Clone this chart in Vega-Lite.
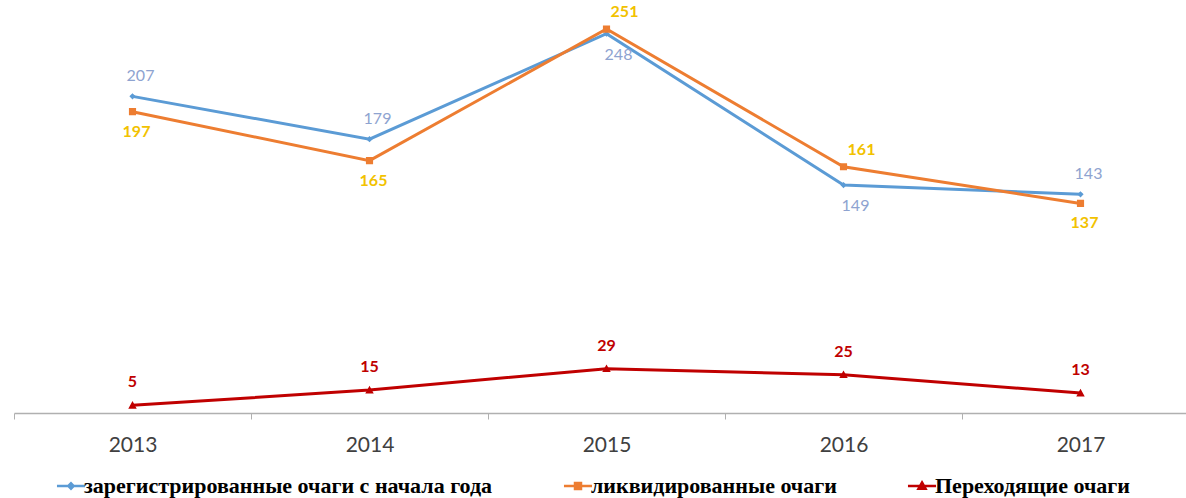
{
  "$schema": "https://vega.github.io/schema/vega-lite/v6.json",
  "autosize": "none",
  "padding": {"left": 14, "top": 0, "right": 0, "bottom": 85},
  "width": 1172,
  "height": 413,
  "background": "white",
  "config": {"view": {"stroke": null}, "legend": {"labelFont": "Liberation Serif"}},
  "data": {"values": [
    {"year": "2013", "reg": 207, "liq": 197, "per": 5},
    {"year": "2014", "reg": 179, "liq": 165, "per": 15},
    {"year": "2015", "reg": 248, "liq": 251, "per": 29},
    {"year": "2016", "reg": 149, "liq": 161, "per": 25},
    {"year": "2017", "reg": 143, "liq": 137, "per": 13}
  ]},
  "encoding": {
    "x": {"field": "year", "type": "ordinal", "scale": {"paddingInner": 0, "paddingOuter": 0, "range": [0, 1185]},
      "axis": {"title": null, "labelAngle": 0, "labelFont": "Lato", "labelFontSize": 21, "labelColor": "#404040",
        "domainColor": "#b0b0b0", "domainWidth": 1.3, "tickColor": "#b0b0b0", "tickSize": 6, "tickBand": "extent",
        "labelPadding": 15, "grid": false}}
  },
  "layer": [
    {
      "transform": [{"fold": ["reg", "liq", "per"], "as": ["key", "value"]}],
      "mark": {"type": "line", "strokeWidth": 3},
      "encoding": {
        "y": {"field": "value", "type": "quantitative", "scale": {"domain": [0, 270], "nice": false}, "axis": null},
        "color": {"field": "key", "type": "nominal",
          "scale": {"domain": ["reg", "liq", "per"], "range": ["#5B9BD5", "#ED7D31", "#C00000"]}}
      }
    },
    {
      "transform": [{"fold": ["reg", "liq", "per"], "as": ["key", "value"]}],
      "mark": {"type": "point", "filled": true, "opacity": 1, "size": 500, "strokeWidth": 0},
      "encoding": {
        "y": {"field": "value", "type": "quantitative"},
        "color": {"field": "key", "type": "nominal",
          "legend": {"title": null, "orient": "none", "legendX": 46, "legendY": 475, "direction": "horizontal",
            "columnPadding": 65, "symbolSize": 350, "symbolStrokeWidth": 2.5,
            "labelFont": "Liberation Serif", "labelFontWeight": "bold", "labelFontSize": 22, "labelColor": "#000000",
            "labelOffset": 2, "labelLimit": 600,
            "labelExpr": "datum.value == 'reg' ? 'зарегистрированные очаги с начала года' : datum.value == 'liq' ? 'ликвидированные очаги' : 'Переходящие очаги'",
            "encode": {"symbols": {"update": {"stroke": {"scale": "color", "field": "value"}, "strokeWidth": {"value": 2.5}}}}}},
        "shape": {"field": "key", "type": "nominal",
          "scale": {"domain": ["reg", "liq", "per"], "range": [
            "M-1.5,0H1.5M-0.28,0L0,-0.28L0.28,0L0,0.28Z",
            "M-1.5,0H1.5M-0.32,-0.32H0.32V0.32H-0.32Z",
            "M-1.5,0H1.5M0,-0.38L0.38,0.3H-0.38Z"
          ]}}
      }
    },
    {
      "transform": [{"filter": "datum.reg > datum.liq"}],
      "mark": {"type": "text", "dy": -20, "dx": 8, "font": "Lato", "fontSize": 16, "color": "#8EA3D0"},
      "encoding": {"y": {"field": "reg", "type": "quantitative"}, "text": {"field": "reg"}}
    },
    {
      "transform": [{"filter": "datum.reg <= datum.liq"}],
      "mark": {"type": "text", "dy": 21, "dx": 12, "font": "Lato", "fontSize": 16, "color": "#8EA3D0"},
      "encoding": {"y": {"field": "reg", "type": "quantitative"}, "text": {"field": "reg"}}
    },
    {
      "transform": [{"filter": "datum.liq > datum.reg"}],
      "mark": {"type": "text", "dy": -17, "dx": 18, "font": "Lato", "fontSize": 16, "fontWeight": "bold", "color": "#F2C200"},
      "encoding": {"y": {"field": "liq", "type": "quantitative"}, "text": {"field": "liq"}}
    },
    {
      "transform": [{"filter": "datum.liq <= datum.reg"}],
      "mark": {"type": "text", "dy": 20, "dx": 4, "font": "Lato", "fontSize": 16, "fontWeight": "bold", "color": "#F2C200"},
      "encoding": {"y": {"field": "liq", "type": "quantitative"}, "text": {"field": "liq"}}
    },
    {
      "mark": {"type": "text", "dy": -23, "font": "Lato", "fontSize": 16, "fontWeight": "bold", "color": "#C00000"},
      "encoding": {"y": {"field": "per", "type": "quantitative"}, "text": {"field": "per"}}
    }
  ]
}
